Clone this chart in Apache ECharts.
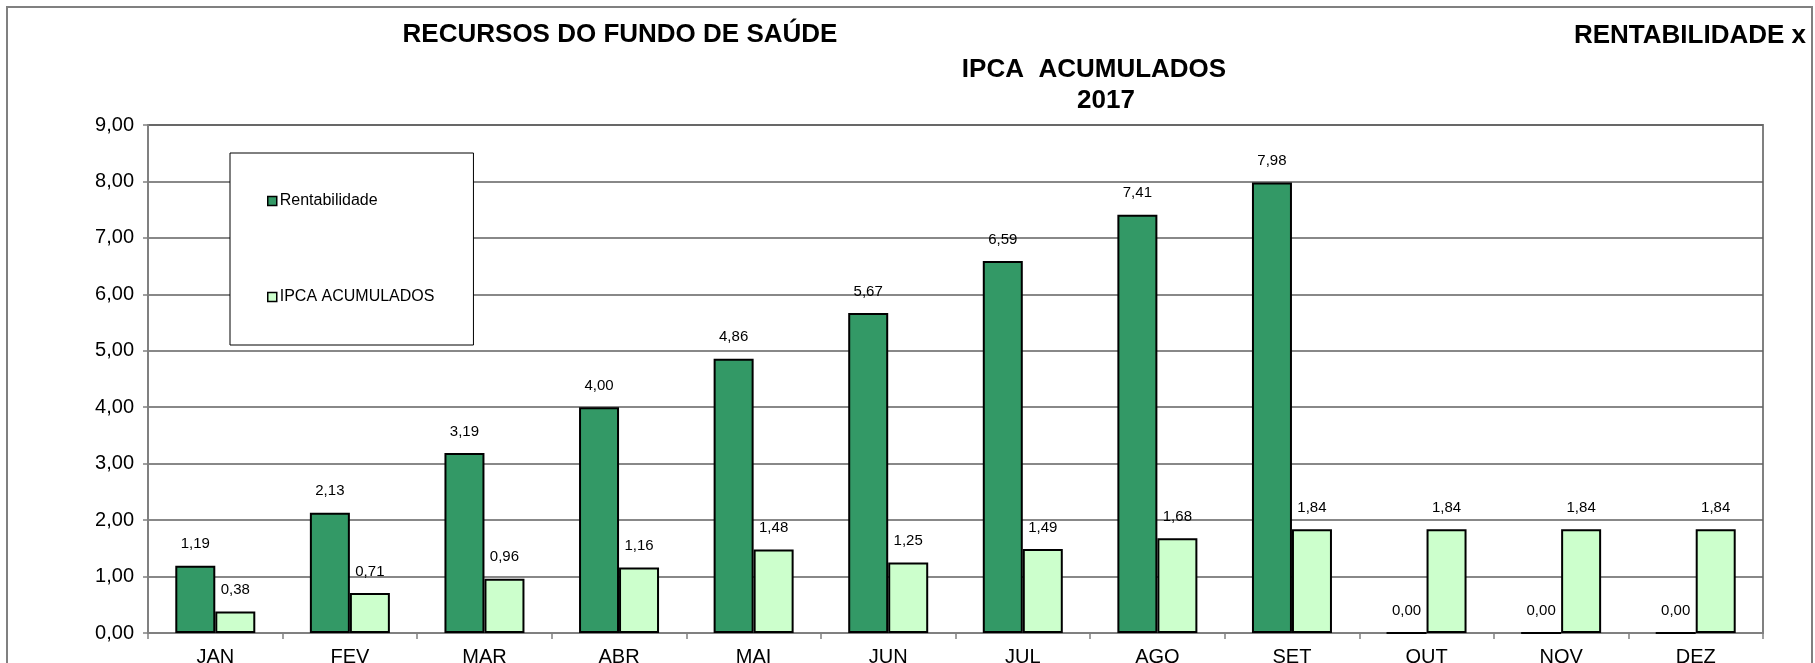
<!DOCTYPE html>
<html>
<head>
<meta charset="utf-8">
<script src="https://cdn.jsdelivr.net/npm/echarts@6/dist/echarts.min.js"></script>
<style>
  html, body { margin: 0; padding: 0; background: #fff; }
  #chart { width: 1815px; height: 663px; }
</style>
</head>
<body>
<div id="chart"></div>
<script>
// dados do gráfico
var meses = ["JAN", "FEV", "MAR", "ABR", "MAI", "JUN", "JUL", "AGO", "SET", "OUT", "NOV", "DEZ"];
var rentabilidade = [1.19, 2.13, 3.19, 4.00, 4.86, 5.67, 6.59, 7.41, 7.98, 0.00, 0.00, 0.00];
var ipcaAcumulados = [0.38, 0.71, 0.96, 1.16, 1.48, 1.25, 1.49, 1.68, 1.84, 1.84, 1.84, 1.84];
var yMin = 0, yMax = 9, yStep = 1;

var fonte = "'Liberation Sans', Arial, sans-serif";
function virgula(v) {
  return Number(v).toFixed(2).replace(".", ",");
}

var chart = echarts.init(document.getElementById("chart"));
chart.setOption({
  backgroundColor: "#fff",
  animation: false,
  textStyle: { fontFamily: fonte, color: "#000" },
  title: [
    {
      text: "RECURSOS DO FUNDO DE SAÚDE",
      left: 620, top: 22, padding: 0, textAlign: "center",
      textStyle: { fontSize: 26, fontWeight: "bold", color: "#000", fontFamily: fonte }
    },
    {
      text: "RENTABILIDADE x",
      left: 1690, top: 23, padding: 0, textAlign: "center",
      textStyle: { fontSize: 26, fontWeight: "bold", color: "#000", fontFamily: fonte }
    },
    {
      text: "IPCA  ACUMULADOS",
      left: 1094, top: 57, padding: 0, textAlign: "center",
      textStyle: { fontSize: 26, fontWeight: "bold", color: "#000", fontFamily: fonte }
    },
    {
      text: "2017",
      left: 1106, top: 88, padding: 0, textAlign: "center",
      textStyle: { fontSize: 26, fontWeight: "bold", color: "#000", fontFamily: fonte }
    }
  ],
  graphic: [
    {
      type: "rect",
      z: -10,
      shape: { x: 7, y: 7, width: 1805, height: 700 },
      style: { fill: "none", stroke: "#808080", lineWidth: 2 }
    }
  ],
  legend: {
    orient: "vertical",
    left: 230,
    top: 153,
    padding: [40, 39, 40, 37],
    backgroundColor: "#fff",
    borderColor: "#000",
    borderWidth: 1,
    itemWidth: 9,
    itemHeight: 9,
    itemGap: 80,
    icon: "rect",
    itemStyle: { borderColor: "#000", borderWidth: 1.5 },
    textStyle: { fontSize: 16, color: "#000", fontFamily: fonte, lineHeight: 16, padding: [0, 0, 0, -2] },
    data: ["Rentabilidade", "IPCA ACUMULADOS"]
  },
  grid: {
    left: 148,
    right: 52,
    top: 125,
    bottom: 30,
    show: true,
    borderColor: "#808080",
    borderWidth: 2,
    containLabel: false,
    outerBoundsMode: "none"
  },
  xAxis: {
    type: "category",
    data: meses,
    axisLine: { lineStyle: { color: "#808080", width: 2 } },
    axisTick: { show: true, length: 6, lineStyle: { color: "#808080", width: 1.5 } },
    axisLabel: { fontSize: 20, color: "#000", margin: 14, fontFamily: fonte },
    splitLine: { show: false }
  },
  yAxis: {
    type: "value",
    min: yMin,
    max: yMax,
    interval: yStep,
    axisLine: { show: true, lineStyle: { color: "#808080", width: 2 } },
    axisTick: { show: true, length: 5, lineStyle: { color: "#808080", width: 1.5 } },
    axisLabel: { fontSize: 20, color: "#000", margin: 14, fontFamily: fonte, formatter: virgula },
    splitLine: { lineStyle: { color: "#606060", width: 1.5 } }
  },
  series: [
    {
      name: "Rentabilidade",
      type: "bar",
      data: rentabilidade,
      barWidth: 40,
      barGap: "0%",
      itemStyle: { color: "#339966", borderColor: "#000", borderWidth: 2 },
      label: {
        show: true, position: "top", distance: 14,
        fontSize: 15, color: "#000", fontFamily: fonte,
        formatter: function (p) { return virgula(p.value); }
      }
    },
    {
      name: "IPCA ACUMULADOS",
      type: "bar",
      data: ipcaAcumulados,
      barWidth: 40,
      barGap: "0%",
      itemStyle: { color: "#CCFFCC", borderColor: "#000", borderWidth: 2 },
      label: {
        show: true, position: "top", distance: 14,
        fontSize: 15, color: "#000", fontFamily: fonte,
        formatter: function (p) { return virgula(p.value); }
      }
    }
  ]
});
</script>
</body>
</html>
